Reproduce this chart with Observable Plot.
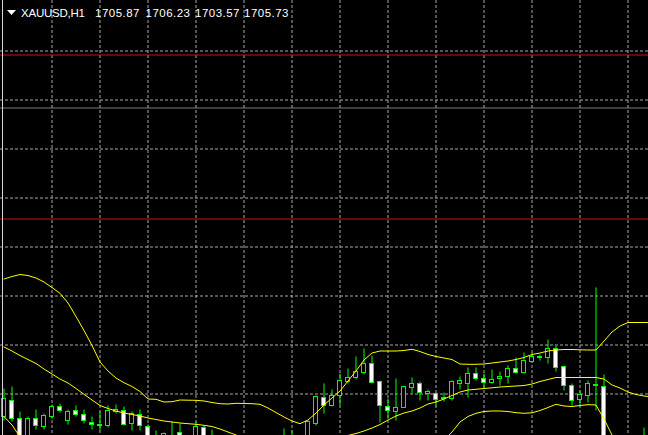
<!DOCTYPE html>
<html>
<head>
<meta charset="utf-8">
<script src="https://cdn.jsdelivr.net/npm/d3@7"></script>
<script src="https://cdn.jsdelivr.net/npm/@observablehq/plot@0.6"></script>
<style>
  html, body { margin: 0; padding: 0; background: #000; }
  #wrap { position: relative; width: 648px; height: 435px; overflow: hidden; background: #000; }
  #wrap svg.plot { display: block; }
  #overlay { position: absolute; left: 0; top: 0; pointer-events: none; }
  #border { position: absolute; left: 2px; top: 0; width: 1px; height: 435px; background: #d8d8d8; }
</style>
</head>
<body>
<div id="wrap"></div>
<script>
// ---- Chart header ----
const symbol = "XAUUSD,H1";
const ohlcLabels = ["1705.87", "1706.23", "1703.57", "1705.73"];

// ---- Candles (H1 bars, index 0 = leftmost visible bar) ----
const opens = [
  1708.4,1710.0,1708.2,1706.2,1708.2,1707.4,1708.4,1709.4,1708.0,1709.0,
  1708.6,1707.8,1707.5,1707.5,1708.9,1709.0,1707.7,1708.6,1707.4,1706.0,
  1706.2,1705.8,1706.8,1705.9,1706.0,1707.3,1706.2,1705.6,1704.9,1704.4,
  1704.0,1703.5,1703.9,1704.2,1704.6,1705.0,1705.8,1706.1,1706.0,1707.7,
  1710.3,1709.5,1710.5,1711.9,1712.3,1712.8,1713.7,1711.9,1709.4,1708.9,
  1709.3,1711.3,1711.7,1710.7,1710.7,1710.2,1710.2,1711.7,1711.7,1712.7,
  1712.2,1711.8,1712.2,1712.4,1713.2,1712.8,1713.9,1714.3,1714.3,1715.2,
  1713.4,1711.5,1710.1,1710.5,1711.5,1711.4,1705.0,1704.3,1704.9,1704.4,
  1705.8
];
const highs = [
  1711.2,1711.4,1708.9,1708.4,1709.1,1708.7,1709.6,1709.7,1709.1,1709.5,
  1709.1,1708.4,1708.9,1709.5,1709.6,1709.4,1708.9,1709.1,1707.6,1707.0,
  1706.8,1707.9,1707.7,1706.2,1707.9,1707.5,1707.1,1705.9,1705.3,1704.8,
  1704.6,1704.2,1704.5,1705.0,1705.4,1707.2,1707.0,1706.4,1708.0,1710.5,
  1711.7,1711.1,1712.7,1713.2,1714.4,1715.2,1714.5,1712.0,1710.2,1712.2,
  1711.4,1712.3,1711.9,1711.1,1710.8,1710.8,1712.0,1712.4,1713.3,1713.3,
  1712.7,1713.1,1712.9,1713.5,1714.3,1714.8,1714.8,1714.6,1716.1,1715.5,
  1713.4,1711.7,1711.0,1712.0,1721.3,1712.6,1706.0,1705.2,1705.6,1706.1,
  1707.3
];
const lows = [
  1708.0,1707.9,1705.5,1705.8,1707.1,1707.1,1708.2,1708.8,1707.6,1708.4,
  1707.7,1707.1,1707.0,1707.3,1708.7,1707.5,1707.0,1707.0,1705.6,1705.7,
  1705.9,1705.4,1705.5,1705.0,1705.6,1705.4,1705.3,1704.6,1704.1,1703.6,
  1703.2,1703.0,1703.4,1703.8,1704.2,1704.8,1705.4,1705.6,1705.7,1707.5,
  1708.7,1709.4,1709.5,1711.7,1712.1,1712.6,1711.7,1707.8,1708.2,1708.0,
  1709.3,1710.7,1710.0,1710.0,1709.4,1709.9,1710.0,1711.1,1710.3,1712.0,
  1711.3,1711.7,1711.5,1711.7,1712.7,1712.7,1713.8,1714.0,1713.7,1712.9,
  1711.0,1709.5,1709.4,1709.8,1709.0,1704.5,1703.8,1703.5,1704.0,1704.1,
  1705.2
];
const closes = [
  1710.2,1708.2,1706.0,1708.2,1707.5,1708.5,1709.4,1709.0,1708.9,1708.6,
  1708.0,1707.6,1707.6,1709.0,1709.1,1707.6,1708.7,1707.5,1706.0,1706.4,
  1706.7,1706.3,1705.8,1705.3,1707.4,1705.8,1705.7,1704.9,1704.4,1704.0,
  1703.5,1703.9,1704.2,1704.6,1705.0,1705.8,1706.1,1705.9,1707.9,1710.4,
  1709.5,1710.5,1712.0,1712.3,1712.9,1713.7,1711.8,1709.5,1709.0,1709.3,
  1711.4,1711.7,1710.8,1710.9,1710.1,1710.3,1711.9,1712.0,1712.7,1712.2,
  1711.8,1712.1,1712.4,1713.2,1712.8,1714.0,1714.4,1714.4,1715.2,1713.3,
  1711.5,1710.0,1710.6,1711.7,1711.6,1705.0,1704.3,1704.9,1704.4,1705.8,
  1705.9
];

// ---- Bollinger Bands (one value per bar position) ----
const upperBand = [
  1722.20,1722.45,1722.65,1722.55,1722.30,1721.90,1721.35,1720.77,1719.80,1718.45,
  1717.05,1715.55,1713.90,1713.00,1712.30,1711.83,1711.45,1710.95,1710.20,1710.17,
  1709.90,1709.93,1710.10,1710.08,1710.07,1710.00,1709.85,1709.73,1709.70,1709.77,
  1709.75,1709.73,1709.67,1709.30,1708.85,1708.40,1708.00,1707.73,1708.10,1708.80,
  1709.60,1710.30,1711.00,1712.00,1713.00,1714.10,1714.80,1715.00,1715.00,1715.00,
  1715.05,1715.17,1714.95,1714.65,1714.45,1714.30,1714.15,1713.70,1713.67,1713.67,
  1713.70,1713.80,1713.90,1714.00,1714.15,1714.35,1714.65,1714.80,1715.00,1715.10,
  1715.15,1715.15,1715.12,1715.10,1715.10,1716.00,1716.90,1717.50,1717.85,1717.85,
  1717.85,1717.85
];
const middleBand = [
  1715.40,1715.00,1714.55,1714.15,1713.75,1713.20,1712.70,1712.20,1711.80,1711.25,
  1710.67,1710.10,1709.55,1709.25,1709.00,1708.80,1708.65,1708.50,1708.30,1708.15,
  1708.00,1707.90,1707.80,1707.73,1707.67,1707.57,1707.45,1707.20,1706.90,1706.60,
  1706.30,1706.00,1705.80,1705.60,1705.50,1705.40,1705.40,1705.50,1705.70,1705.90,
  1706.10,1706.25,1706.40,1706.55,1706.75,1707.00,1707.30,1707.65,1708.10,1708.50,
  1708.80,1709.00,1709.30,1709.70,1709.90,1710.20,1710.55,1710.90,1711.10,1711.17,
  1711.25,1711.32,1711.40,1711.45,1711.50,1711.55,1711.70,1711.95,1712.15,1712.35,
  1712.35,1712.35,1712.35,1712.35,1712.35,1712.20,1711.60,1711.30,1710.90,1710.65,
  1710.50,1710.40
];
const lowerBand = [
  1708.45,1707.60,1706.40,1705.75,1705.20,1704.50,1704.05,1703.63,1703.80,1704.05,
  1704.30,1704.65,1705.20,1705.50,1705.70,1705.77,1705.85,1706.05,1706.40,1706.13,
  1706.10,1705.87,1705.50,1705.38,1705.27,1705.14,1705.05,1704.67,1704.10,1703.43,
  1702.85,1702.27,1701.93,1701.90,1702.15,1702.40,1702.80,1703.27,1703.30,1703.00,
  1702.60,1702.20,1701.80,1701.10,1700.50,1699.90,1699.80,1700.30,1701.20,1702.00,
  1702.55,1702.83,1703.65,1704.75,1705.35,1706.10,1706.90,1707.90,1708.45,1708.77,
  1708.95,1709.00,1709.00,1708.95,1708.83,1708.77,1708.82,1709.05,1709.35,1709.67,
  1709.50,1709.45,1709.55,1709.63,1709.60,1708.20,1706.60,1705.10,1703.95,1703.45,
  1703.10,1702.80
];

// ---- Levels / grid ----
const horizontalLevels = [1744.6, 1728.2];   // red horizontal lines
const grayLevels = [1739.3];                 // solid gray line
const gridPrices = [1745.0, 1740.1, 1735.2, 1730.3, 1725.4, 1720.5, 1715.6, 1710.7];
const gridBars = [6, 12, 18, 24, 30, 36, 42, 48, 54, 60, 66, 72, 78];

// ---- Build table ----
const candles = opens.map((o, i) => ({i, open: o, high: highs[i], low: lows[i], close: closes[i]}));

const lime = "#00ff00";
const gridColor = "#a8a8a8";
const bandColor = "#ffff00";

const chart = Plot.plot({
  width: 648,
  height: 435,
  margin: 0,
  style: {background: "#000"},
  x: {type: "linear", domain: [-0.4375, 80.5625], axis: null},
  y: {type: "linear", domain: [1706.55, 1750.05], axis: null},
  marks: [
    Plot.ruleX(gridBars, {x: d => d, stroke: gridColor, strokeDasharray: "3,2"}),
    Plot.ruleY(gridPrices, {y: d => d, stroke: gridColor, strokeDasharray: "3,2"}),
    Plot.ruleY(grayLevels, {y: d => d, stroke: "#7a7a7a"}),
    Plot.ruleY(horizontalLevels, {y: d => d, stroke: "#d01010"}),
    Plot.ruleX(candles, {x: "i", y1: "low", y2: "high", stroke: lime, clip: true}),
    Plot.rect(candles, {
      x1: d => d.i - 0.25, x2: d => d.i + 0.25,
      y1: "open", y2: "close",
      fill: d => d.close >= d.open ? "#000000" : "#ffffff",
      stroke: lime, strokeWidth: 1, clip: true
    }),
    Plot.line(upperBand, {x: (d, i) => i, y: d => d, stroke: bandColor, strokeWidth: 1, clip: true}),
    Plot.line(middleBand, {x: (d, i) => i, y: d => d, stroke: bandColor, strokeWidth: 1, clip: true}),
    Plot.line(lowerBand, {x: (d, i) => i, y: d => d, stroke: bandColor, strokeWidth: 1, clip: true})
  ]
});

const wrap = document.getElementById("wrap");
wrap.appendChild(chart);

// header overlay (triangle + symbol + OHLC)
const ns = "http://www.w3.org/2000/svg";
const ov = document.createElementNS(ns, "svg");
ov.setAttribute("id", "overlay");
ov.setAttribute("width", 648);
ov.setAttribute("height", 30);
const tri = document.createElementNS(ns, "polygon");
tri.setAttribute("points", "7,10 16,10 11.5,15");
tri.setAttribute("fill", "#ffffff");
ov.appendChild(tri);
function addText(str, x, len) {
  const t = document.createElementNS(ns, "text");
  t.setAttribute("x", x);
  t.setAttribute("y", 17);
  t.setAttribute("fill", "#ffffff");
  t.setAttribute("font-family", "Liberation Sans, Arial, sans-serif");
  t.setAttribute("font-size", "11.5");
  t.setAttribute("textLength", len);
  t.setAttribute("lengthAdjust", "spacing");
  t.textContent = str;
  ov.appendChild(t);
}
addText(symbol, 21, 64);
const starts = [95, 145.5, 195, 244];
ohlcLabels.forEach((s, k) => addText(s, starts[k], 44.5));
wrap.appendChild(ov);

const border = document.createElement("div");
border.id = "border";
wrap.appendChild(border);
</script>
</body>
</html>
